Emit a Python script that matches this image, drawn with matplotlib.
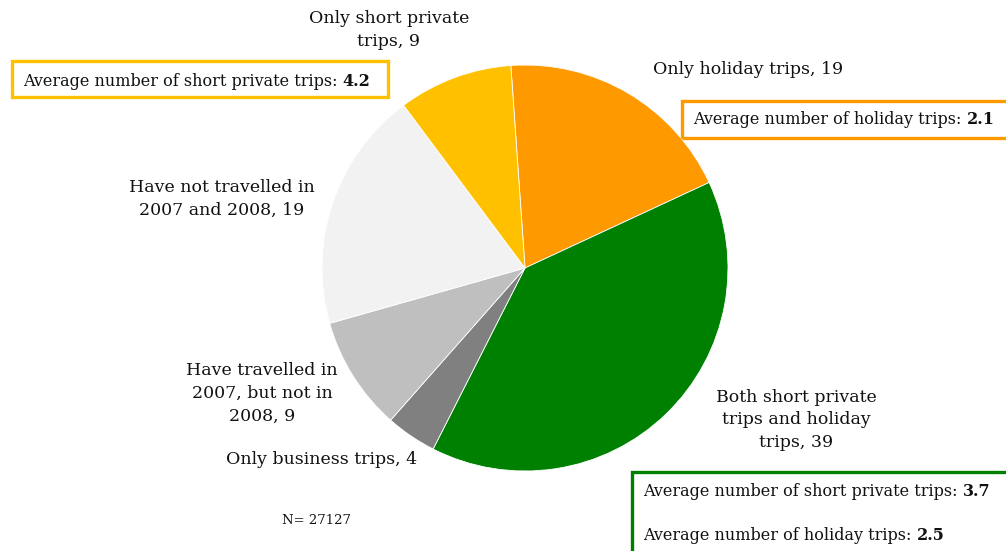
import matplotlib.pyplot as plt
from matplotlib.patches import Rectangle

# pie data (share of respondents, %)
labels = ['Only holiday trips, 19',
          'Both short private\ntrips and holiday\ntrips, 39',
          'Only business trips, 4',
          'Have travelled in\n2007, but not in\n2008, 9',
          'Have not travelled in\n2007 and 2008, 19',
          'Only short private\ntrips, 9']
shares = [19, 39, 4, 9, 19, 9]
colors = ['#FF9900', '#008000', '#808080', '#BFBFBF', '#F2F2F2', '#FFC000']

# label anchor points in pixel space (x, y from top) and alignment
label_pos = [(653, 69, 'left'), (796, 420, 'center'), (322, 460, 'center'),
             (262, 393, 'center'), (222, 199, 'center'), (389, 30, 'center')]

# boxed averages: (x0, y0, x1, y1, colour, [(text, bold value, y)])
boxes = [
    (12, 61, 388, 97, '#FFC000',
     [('Average number of short private trips: ', '4.2', 81)]),
    (682, 101, 1010, 138, '#FF9900',
     [('Average number of holiday trips: ', '2.1', 120)]),
    (632, 472, 1010, 555, '#008000',
     [('Average number of short private trips: ', '3.7', 492),
      ('Average number of holiday trips: ', '2.5', 536)]),
]

W, H = 1006, 551
plt.rcParams['font.family'] = 'DejaVu Serif'
fig = plt.figure(figsize=(W / 100, H / 100), dpi=100)
ax = fig.add_axes([0, 0, 1, 1])

ax.pie(shares, colors=colors, startangle=94, counterclock=False,
       center=(525, H - 268), radius=203, frame=True,
       wedgeprops=dict(edgecolor='white', linewidth=0.6))
ax.set_xlim(0, W)
ax.set_ylim(0, H)
ax.set_aspect('equal')
ax.axis('off')

fs = 12.5
for lab, (x, y, ha) in zip(labels, label_pos):
    ax.text(x, H - y, lab, ha=ha, va='center', fontsize=fs,
            color='#111111', linespacing=1.45, multialignment='center')

fig.canvas.draw()
renderer = fig.canvas.get_renderer()
inv = ax.transData.inverted()
for x0, y0, x1, y1, col, lines in boxes:
    ax.add_patch(Rectangle((x0, H - y1), x1 - x0, y1 - y0, fill=False,
                           edgecolor=col, linewidth=2.4, clip_on=False))
    for txt, val, ty in lines:
        t = ax.text(x0 + 11, H - ty, txt, ha='left', va='center',
                    fontsize=11.5, color='#111111')
        bb = t.get_window_extent(renderer)
        xe = inv.transform((bb.x1, bb.y0))[0]
        ax.text(xe, H - ty, val, ha='left', va='center', fontsize=11.5,
                fontweight='bold', color='#111111')

ax.text(317, H - 520, 'N= 27127', ha='center', va='center', fontsize=9.5,
        color='#111111')

fig.savefig('out.png', dpi=100)
